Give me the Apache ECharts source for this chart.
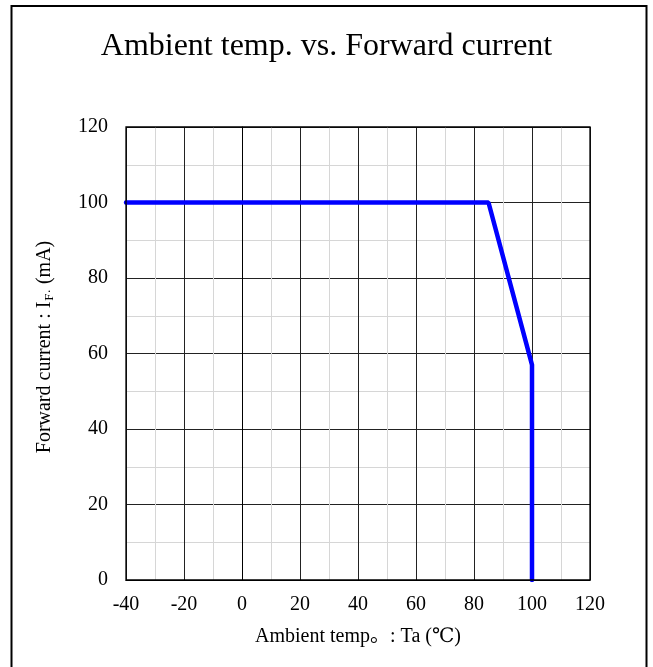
<!DOCTYPE html>
<html>
<head>
<meta charset="utf-8">
<script src="https://cdn.jsdelivr.net/npm/echarts@6/dist/echarts.min.js"></script>
<style>html,body{margin:0;padding:0;background:#fff}#c{width:653px;height:667px}</style>
</head>
<body>
<div id="c"></div>
<script>
var temps = [-40, 85, 100, 100];
var currents = [100, 100, 57, 0];
var xTicks = [-40, -20, 0, 20, 40, 60, 80, 100, 120];
var yTicks = [0, 20, 40, 60, 80, 100, 120];

var FONT = '"Liberation Serif", "DejaVu Serif", "Noto Sans CJK SC", serif';
var chart = echarts.init(document.getElementById('c'));
var pts = temps.map(function (t, i) { return [t, currents[i]]; });
chart.setOption({
  animation: false,
  title: {
    text: 'Ambient temp. vs. Forward current',
    left: 'center', top: 26,
    textStyle: { fontFamily: FONT, fontSize: 32, fontWeight: 'normal', color: '#000' }
  },
  grid: { left: 126, right: 63, top: 127, bottom: 87 },
  xAxis: {
    type: 'value', min: xTicks[0], max: xTicks[xTicks.length - 1], interval: 20,
    axisLine: { show: true, onZero: false, lineStyle: { color: '#000', width: 1 } },
    axisTick: { show: false },
    axisLabel: { fontFamily: FONT, fontSize: 20, color: '#000', margin: 15 },
    splitLine: { show: true, lineStyle: { color: '#222', width: 1 } },
    minorTick: { show: false, splitNumber: 2 },
    minorSplitLine: { show: true, lineStyle: { color: '#d6d6d6', width: 1 } },
    name: 'Ambient temp\u3002: Ta (\u2103)', nameLocation: 'middle', nameGap: 47,
    nameTextStyle: { fontFamily: FONT, fontSize: 20, color: '#000' }
  },
  yAxis: {
    type: 'value', min: yTicks[0], max: yTicks[yTicks.length - 1], interval: 20,
    axisLine: { show: true, lineStyle: { color: '#000', width: 1 } },
    axisTick: { show: false },
    axisLabel: { fontFamily: FONT, fontSize: 20, color: '#000', margin: 18 },
    splitLine: { show: true, lineStyle: { color: '#222', width: 1 } },
    minorTick: { show: false, splitNumber: 2 },
    minorSplitLine: { show: true, lineStyle: { color: '#d6d6d6', width: 1 } }
  },
  graphic: [
    { type: 'rect', z: 100, silent: true,
      shape: { x: 11.5, y: 6, width: 635, height: 672 },
      style: { fill: 'none', stroke: '#000', lineWidth: 2 } },
    { type: 'rect', z: 100, silent: true,
      shape: { x: 126, y: 127, width: 464, height: 453 },
      style: { fill: 'none', stroke: '#000', lineWidth: 1.3 } },
    { type: 'text', x: 45, y: 347, rotation: Math.PI / 2, z: 100,
      style: {
        text: '{n|Forward current : I}{s|F\u00b7}{n| (mA)}',
        align: 'center', verticalAlign: 'middle',
        rich: {
          n: { fontFamily: FONT, fontSize: 20, fill: '#000' },
          s: { fontFamily: FONT, fontSize: 13, fill: '#000', padding: [10, 0, 0, 1] }
        }
      } }
  ],
  series: [{
    type: 'line', data: pts, symbol: 'none',
    lineStyle: { color: '#0000ff', width: 4.5, cap: 'round' }
  }]
});
</script>
</body>
</html>
